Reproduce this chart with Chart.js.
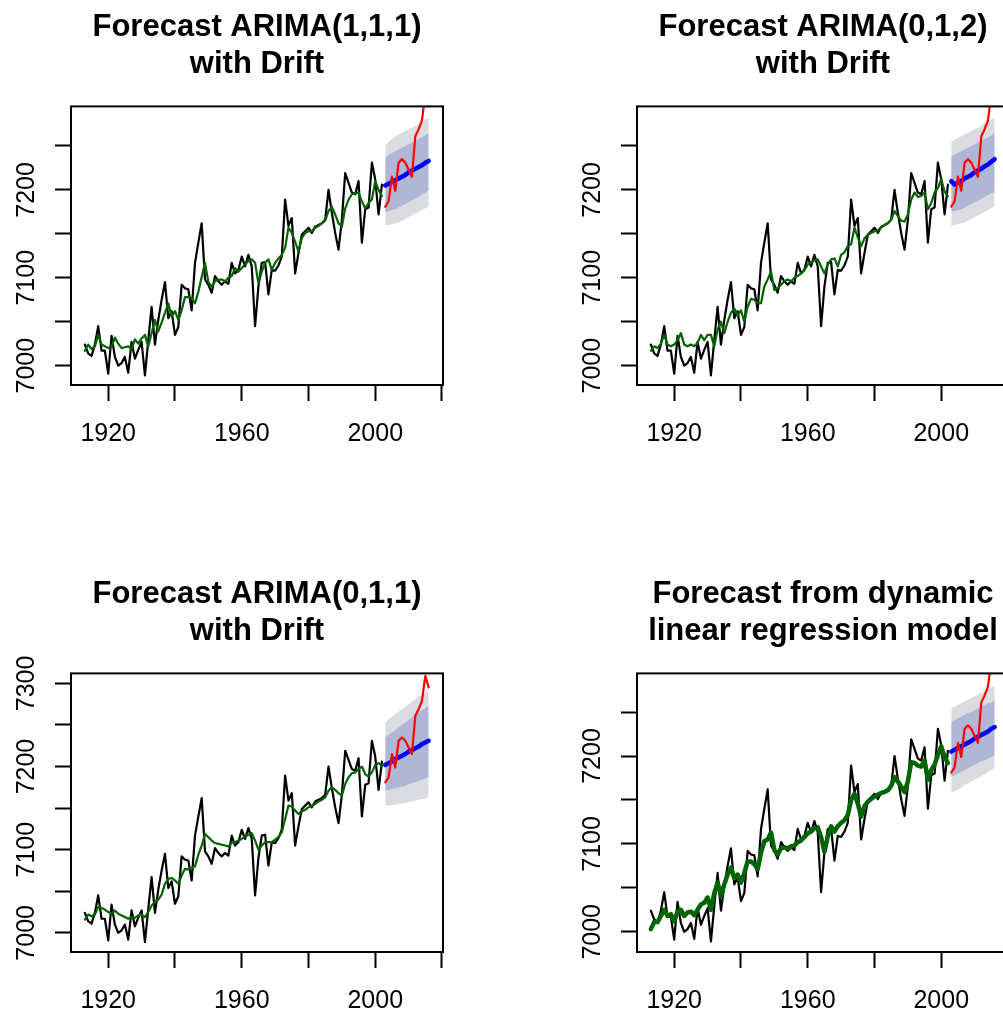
<!DOCTYPE html>
<html>
<head>
<meta charset="utf-8">
<script src="https://cdn.jsdelivr.net/npm/chart.js@4.4.0/dist/chart.umd.min.js"></script>
<style>
html, body { margin: 0; padding: 0; background: #fff; overflow: hidden; width: 1003px; height: 1015px; }
.panel { position: absolute; width: 566px; height: 567px; }
</style>
</head>
<body>
<div class="panel" style="left:0;top:0"><canvas id="c1" width="566" height="567"></canvas></div>
<div class="panel" style="left:566px;top:0"><canvas id="c2" width="566" height="567"></canvas></div>
<div class="panel" style="left:0;top:567px"><canvas id="c3" width="566" height="567"></canvas></div>
<div class="panel" style="left:566px;top:567px"><canvas id="c4" width="566" height="567"></canvas></div>
<script>
// observed series, 1913-2002
const obsStart = 1913;
const observed = [
  7024, 7014, 7011, 7024, 7045, 7017, 7017, 6991, 7034, 7010,
  7000, 7003, 7010, 6992, 7027, 7008, 7018, 7027, 6989, 7029,
  7067, 7024, 7052, 7075, 7095, 7054, 7062, 7035, 7044, 7092,
  7088, 7087, 7063, 7117, 7140, 7162, 7098, 7092, 7083, 7102,
  7096, 7092, 7096, 7093, 7117, 7105, 7109, 7124, 7113, 7126,
  7113, 7045, 7090, 7117, 7118, 7081, 7109, 7108, 7114, 7124,
  7189, 7159, 7168, 7105, 7128, 7149, 7153, 7157, 7151, 7158,
  7160, 7162, 7166, 7200, 7174, 7151, 7132, 7166, 7219, 7208,
  7197, 7195, 7210, 7140, 7178, 7180, 7231, 7212, 7172, 7206
];

// fitted values of each model
const fitArima111 = [
  7017, 7024, 7019, 7022, 7035, 7024, 7022, 7020, 7022, 7032,
  7025, 7020, 7021, 7022, 7019, 7030, 7025, 7031, 7035, 7022,
  7037, 7052, 7039, 7049, 7060, 7071, 7056, 7062, 7052, 7063,
  7078, 7078, 7077, 7071, 7084, 7101, 7117, 7095, 7090, 7096,
  7098, 7098, 7096, 7100, 7102, 7111, 7107, 7111, 7115, 7119,
  7121, 7117, 7094, 7107, 7117, 7121, 7109, 7117, 7122, 7126,
  7134, 7157, 7151, 7141, 7130, 7145, 7151, 7153, 7153, 7157,
  7159, 7162, 7165, 7176, 7181, 7172, 7162, 7158, 7179, 7189,
  7195, 7196, 7197, 7187, 7179, 7185, 7189, 7210, 7200, 7193
];
const fitArima012 = [
  7017, 7022, 7020, 7025, 7035, 7024, 7022, 7024, 7029, 7037,
  7024, 7022, 7024, 7022, 7026, 7035, 7029, 7035, 7035, 7022,
  7041, 7050, 7037, 7050, 7060, 7065, 7057, 7063, 7050, 7067,
  7076, 7075, 7071, 7071, 7090, 7098, 7107, 7086, 7088, 7092,
  7096, 7098, 7096, 7100, 7102, 7105, 7109, 7115, 7117, 7120,
  7121, 7113, 7105, 7115, 7121, 7122, 7113, 7126, 7129, 7136,
  7138, 7157, 7146, 7136, 7145, 7149, 7151, 7153, 7154, 7157,
  7160, 7162, 7166, 7176, 7170, 7165, 7164, 7172, 7189, 7197,
  7192, 7193, 7197, 7178, 7185, 7197, 7202, 7212, 7198, 7193
];
const fitArima011 = [
  7016, 7022, 7020, 7022, 7031, 7030, 7028, 7025, 7023, 7027,
  7023, 7021, 7019, 7017, 7019, 7018, 7021, 7022, 7019, 7025,
  7033, 7037, 7040, 7046, 7059, 7065, 7066, 7063, 7059, 7069,
  7077, 7076, 7078, 7080, 7094, 7105, 7119, 7115, 7111, 7108,
  7107, 7106, 7105, 7104, 7108, 7109, 7111, 7113, 7116, 7118,
  7120, 7111, 7100, 7105, 7109, 7109, 7109, 7112, 7115, 7121,
  7137, 7153, 7152, 7147, 7143, 7146, 7148, 7151, 7153, 7155,
  7158, 7160, 7163, 7171, 7175, 7172, 7168, 7165, 7179, 7187,
  7192, 7193, 7197, 7200, 7191, 7188, 7193, 7202, 7204, 7201
];
const fitDynReg = [
  7003, 7011, 7011, 7018, 7025, 7018, 7020, 7012, 7023, 7025,
  7018, 7022, 7023, 7019, 7025, 7031, 7033, 7039, 7025, 7044,
  7056, 7041, 7054, 7065, 7073, 7061, 7065, 7056, 7067, 7080,
  7080, 7077, 7071, 7090, 7103, 7105, 7113, 7093, 7088, 7095,
  7096, 7095, 7097, 7098, 7102, 7104, 7108, 7112, 7114, 7118,
  7119, 7108, 7091, 7108, 7120, 7114, 7120, 7124, 7127, 7133,
  7150, 7157, 7146, 7131, 7143, 7148, 7151, 7154, 7156, 7158,
  7159, 7161, 7166, 7176, 7171, 7165, 7159, 7171, 7193, 7192,
  7189, 7188, 7195, 7173, 7184, 7190, 7201, 7211, 7199, 7192
];

// forecast horizon and held-out actuals
const fcYears = [2003, 2004, 2005, 2006, 2007, 2008, 2009, 2010, 2011, 2012, 2013, 2014, 2015, 2016];
const actual = [7181, 7187, 7215, 7199, 7231, 7235, 7231, 7223, 7215, 7261, 7269, 7279, 7309, 7295];

const mean111 = [7205, 7207, 7209, 7211, 7213, 7215, 7217, 7220, 7222, 7224, 7226, 7228, 7231, 7233];
const lo95_111 = [7160, 7160, 7161, 7162, 7163, 7165, 7167, 7169, 7171, 7173, 7175, 7177, 7179, 7181];
const hi95_111 = [7250, 7255, 7258, 7261, 7263, 7265, 7267, 7269, 7271, 7273, 7275, 7278, 7280, 7282];
const lo80_111 = [7175, 7176, 7177, 7178, 7180, 7182, 7184, 7186, 7188, 7190, 7192, 7195, 7197, 7200];
const hi80_111 = [7236, 7240, 7242, 7244, 7246, 7248, 7250, 7252, 7254, 7256, 7258, 7260, 7262, 7265];

const mean012 = [7210, 7206, 7208, 7210, 7213, 7215, 7217, 7220, 7222, 7224, 7227, 7229, 7232, 7235];
const lo95_012 = [7159, 7160, 7161, 7162, 7163, 7165, 7167, 7169, 7171, 7173, 7175, 7177, 7179, 7181];
const hi95_012 = [7255, 7257, 7259, 7261, 7263, 7265, 7267, 7269, 7271, 7273, 7276, 7278, 7280, 7282];
const lo80_012 = [7176, 7176, 7177, 7178, 7180, 7182, 7184, 7186, 7188, 7190, 7192, 7194, 7196, 7198];
const hi80_012 = [7238, 7240, 7242, 7244, 7246, 7248, 7250, 7252, 7254, 7256, 7258, 7260, 7262, 7265];

const mean011 = [7202, 7204, 7206, 7209, 7211, 7213, 7215, 7218, 7220, 7222, 7224, 7227, 7229, 7231];
const lo95_011 = [7153, 7153, 7154, 7154, 7155, 7156, 7156, 7157, 7158, 7159, 7160, 7161, 7162, 7163];
const hi95_011 = [7253, 7257, 7260, 7263, 7266, 7269, 7272, 7275, 7278, 7281, 7284, 7286, 7289, 7291];
const lo80_011 = [7171, 7172, 7173, 7174, 7175, 7176, 7177, 7179, 7180, 7181, 7183, 7184, 7186, 7187];
const hi80_011 = [7235, 7238, 7241, 7244, 7247, 7250, 7253, 7256, 7259, 7262, 7265, 7268, 7270, 7273];

const meanDyn = [7205, 7207, 7209, 7211, 7213, 7215, 7217, 7220, 7222, 7224, 7226, 7228, 7231, 7233];
const lo95_dyn = [7158, 7160, 7162, 7164, 7167, 7169, 7171, 7173, 7175, 7177, 7179, 7182, 7184, 7186];
const hi95_dyn = [7254, 7256, 7258, 7260, 7262, 7264, 7266, 7268, 7270, 7272, 7274, 7276, 7278, 7280];
const lo80_dyn = [7176, 7178, 7180, 7182, 7184, 7186, 7188, 7190, 7192, 7194, 7195, 7197, 7199, 7201];
const hi80_dyn = [7239, 7241, 7243, 7245, 7247, 7249, 7250, 7252, 7254, 7256, 7258, 7260, 7261, 7263];

// axes
const xTicks = [1920, 1940, 1960, 1980, 2000, 2020];
const xLabels = [1920, 1960, 2000];
const yTicksA = [7000, 7050, 7100, 7150, 7200, 7250];
const yTicksB = [7000, 7050, 7100, 7150, 7200, 7250, 7300];
const yLabelsA = [7000, 7100, 7200];
const yLabelsB = [7000, 7100, 7200, 7300];

const FONT = '"Liberation Sans", Arial, Helvetica, sans-serif';
const obsYears = observed.map((v, i) => obsStart + i);

function pts(xs, ys) {
  return xs.map((x, i) => ({ x: x, y: ys[i] }));
}

const boxPlugin = {
  id: 'rbox',
  afterDatasetsDraw(chart) {
    const a = chart.chartArea;
    const ctx = chart.ctx;
    ctx.save();
    ctx.strokeStyle = '#000';
    ctx.lineWidth = 2;
    ctx.strokeRect(a.left, a.top, a.right - a.left, a.bottom - a.top);
    ctx.restore();
  }
};

function line(data, color, width, order) {
  return {
    data: data, borderColor: color, borderWidth: width, pointRadius: 0,
    fill: false, tension: 0, order: order,
    borderCapStyle: 'round', borderJoinStyle: 'round'
  };
}

function band(data, fillColor, isUpper, order) {
  return {
    data: data, borderWidth: 0, borderColor: 'rgba(0,0,0,0)', pointRadius: 0,
    backgroundColor: fillColor, fill: isUpper ? '-1' : false, tension: 0, order: order
  };
}

function makePanel(id, title, fitted, fitWidth, mean, lo95, hi95, lo80, hi80, yMin, yMax, yTicks, yLabels) {
  const tickGrid = {
    display: true, drawOnChartArea: false, drawTicks: true,
    tickLength: 16, tickWidth: 2, tickColor: '#000'
  };
  new Chart(document.getElementById(id), {
    type: 'line',
    data: {
      datasets: [
        band(pts(fcYears, lo95), '#dbdbe2', false, 9),
        band(pts(fcYears, hi95), '#dbdbe2', true, 8),
        band(pts(fcYears, lo80), '#b0b7d5', false, 7),
        band(pts(fcYears, hi80), '#b0b7d5', true, 6),
        line(pts(obsYears, observed), '#000000', 2.2, 5),
        line(pts(fcYears, mean), '#0000ff', 4.5, 4),
        line(pts(obsYears, fitted), '#006400', fitWidth, 3),
        line(pts(fcYears, actual), '#ff0000', 2.2, 2)
      ]
    },
    options: {
      responsive: false,
      animation: false,
      layout: { padding: { left: 0, right: 123, top: 0, bottom: 0 } },
      plugins: {
        legend: { display: false },
        tooltip: { enabled: false },
        title: {
          display: true, text: title, fullSize: false, color: '#000',
          font: { family: FONT, size: 31, weight: 'bold', lineHeight: 1.2 },
          padding: { top: 9, bottom: 23 }
        }
      },
      scales: {
        x: {
          type: 'linear', min: 1908.85, max: 2020.3,
          afterBuildTicks: ax => { ax.ticks = xTicks.map(v => ({ value: v })); },
          afterFit: ax => { ax.height = 182; },
          grid: tickGrid,
          border: { display: false },
          ticks: {
            autoSkip: false, maxRotation: 0, minRotation: 0, padding: 18, color: '#000',
            font: { family: FONT, size: 25 },
            callback: v => xLabels.includes(v) ? String(v) : ''
          }
        },
        y: {
          type: 'linear', min: yMin, max: yMax,
          afterBuildTicks: ax => { ax.ticks = yTicks.map(v => ({ value: v })); },
          afterFit: ax => { ax.width = 71; },
          grid: tickGrid,
          border: { display: false },
          ticks: {
            autoSkip: false, minRotation: 90, maxRotation: 90, crossAlign: 'center',
            padding: 0, color: '#000', font: { family: FONT, size: 25 },
            callback: v => yLabels.includes(v) ? String(v) : ''
          }
        }
      }
    },
    plugins: [boxPlugin]
  });
}

makePanel('c1', ['Forecast ARIMA(1,1,1)', 'with Drift'], fitArima111, 2.2,
  mean111, lo95_111, hi95_111, lo80_111, hi80_111, 6978, 7295, yTicksA, yLabelsA);
makePanel('c2', ['Forecast ARIMA(0,1,2)', 'with Drift'], fitArima012, 2.2,
  mean012, lo95_012, hi95_012, lo80_012, hi80_012, 6978, 7295, yTicksA, yLabelsA);
makePanel('c3', ['Forecast ARIMA(0,1,1)', 'with Drift'], fitArima011, 2.2,
  mean011, lo95_011, hi95_011, lo80_011, hi80_011, 6977, 7312, yTicksB, yLabelsB);
makePanel('c4', ['Forecast from dynamic', 'linear regression model'], fitDynReg, 4.5,
  meanDyn, lo95_dyn, hi95_dyn, lo80_dyn, hi80_dyn, 6977, 7294, yTicksA, yLabelsA);
</script>
</body>
</html>
